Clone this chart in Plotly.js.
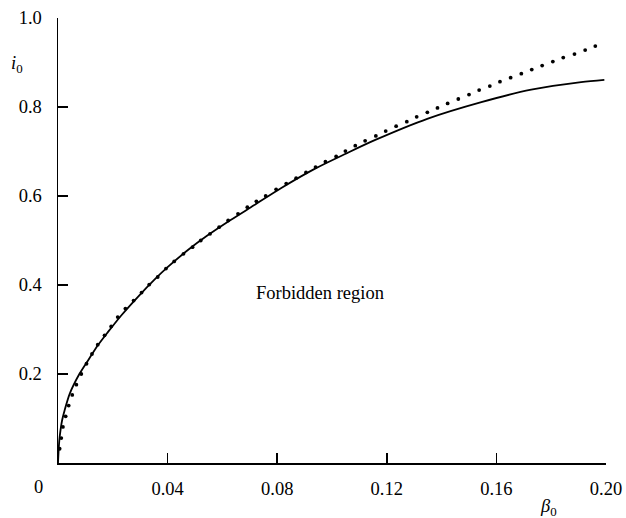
<!DOCTYPE html>
<html>
<head>
<meta charset="utf-8">
<script src="https://cdn.plot.ly/plotly-3.0.1.min.js"></script>
<style>html,body{margin:0;padding:0;background:#fff;}</style>
</head>
<body>
<div id="chart" style="width:626px;height:518px;"></div>
<script>
// Solid curve
const solidX = [0, 0.0003, 0.0006, 0.0015, 0.0024, 0.0043, 0.0079, 0.0109, 0.0145, 0.0182, 0.0230, 0.0291, 0.0352, 0.0400, 0.0473, 0.0545, 0.0630, 0.0715, 0.0815, 0.0940, 0.1050, 0.1158, 0.1350, 0.1545, 0.1727, 0.1909, 0.1994];
const solidY = [0, 0.036, 0.058, 0.096, 0.118, 0.156, 0.201, 0.230, 0.264, 0.294, 0.331, 0.373, 0.412, 0.440, 0.478, 0.511, 0.546, 0.579, 0.618, 0.662, 0.695, 0.726, 0.774, 0.811, 0.839, 0.856, 0.861];

// Dotted curve (each dot)
const dotX = [0.0006, 0.0012, 0.0018, 0.0028, 0.0039, 0.0052, 0.0067, 0.0085, 0.0104, 0.0124, 0.0145, 0.0170, 0.0194, 0.0218, 0.0246, 0.0276, 0.0305, 0.0333, 0.0364, 0.0394, 0.0424, 0.0458, 0.0491, 0.0521, 0.0555, 0.0588, 0.0621, 0.0657, 0.0691, 0.0724,
  0.0758, 0.0796, 0.0833, 0.0869, 0.0905, 0.0940, 0.0976, 0.1015, 0.1049, 0.1085, 0.1121, 0.1160, 0.1196, 0.1234, 0.1273, 0.1309, 0.1348, 0.1385, 0.1422, 0.1461, 0.1500, 0.1537, 0.1576, 0.1613, 0.1652, 0.1691, 0.1729, 0.1767, 0.1806, 0.1844, 0.1885, 0.1924, 0.1961];
const dotY = [0.032, 0.056, 0.081, 0.105, 0.129, 0.153, 0.176, 0.200, 0.223, 0.245, 0.266, 0.287, 0.307, 0.328, 0.347, 0.365, 0.383, 0.401, 0.418, 0.437, 0.453, 0.470, 0.485, 0.500, 0.515, 0.530, 0.545, 0.560, 0.575, 0.588,
  0.600, 0.615, 0.628, 0.640, 0.653, 0.665, 0.677, 0.689, 0.701, 0.713, 0.724, 0.735, 0.746, 0.757, 0.767, 0.778, 0.788, 0.798, 0.808, 0.818, 0.828, 0.838, 0.847, 0.857, 0.866, 0.875, 0.884, 0.893, 0.902, 0.911, 0.919, 0.928, 0.937];

const xTicks = [0.04, 0.08, 0.12, 0.16, 0.20];
const xTickText = ['0.04', '0.08', '0.12', '0.16', '0.20'];
const yTicks = [0.2, 0.4, 0.6, 0.8, 1.0];
const yTickText = ['0.2', '0.4', '0.6', '0.8', '1.0'];

const FONT = '"Liberation Serif", "Times New Roman", serif';
const FS = 18.5;

const traces = [
  {x: solidX, y: solidY, mode: 'lines', line: {color: '#000', width: 1.8, shape: 'spline', smoothing: 0.8}, hoverinfo: 'skip', showlegend: false, cliponaxis: false},
  {x: dotX, y: dotY, mode: 'markers', marker: {color: '#000', size: 3.8}, hoverinfo: 'skip', showlegend: false, cliponaxis: false}
];

const layout = {
  width: 626, height: 518,
  margin: {l: 58, r: 20, t: 18, b: 55, pad: 0},
  paper_bgcolor: '#fff', plot_bgcolor: '#fff',
  font: {family: FONT, size: FS, color: '#000'},
  showlegend: false,
  xaxis: {
    range: [0, 0.2], showgrid: false, zeroline: false, showline: true, linecolor: '#000', linewidth: 1.5,
    ticks: 'inside', ticklen: 10, tickwidth: 1.5, tickcolor: '#000',
    tickvals: xTicks, ticktext: xTickText, ticklabelstandoff: 8,
    tickfont: {family: FONT, size: FS, color: '#000'}, fixedrange: true
  },
  yaxis: {
    range: [0, 1.0], showgrid: false, zeroline: false, showline: true, linecolor: '#000', linewidth: 1.5,
    ticks: 'inside', ticklen: 10, tickwidth: 1.5, tickcolor: '#000',
    tickvals: yTicks, ticktext: yTickText, ticklabelstandoff: 11,
    tickfont: {family: FONT, size: FS, color: '#000'}, fixedrange: true
  },
  annotations: [
    {text: '0', xref: 'paper', yref: 'paper', x: -0.035, y: -0.055, xanchor: 'center', yanchor: 'middle', showarrow: false, font: {family: FONT, size: FS, color: '#000'}},
    {text: '<i>i</i><sub>0</sub>', xref: 'paper', yref: 'paper', x: -0.075, y: 0.895, xanchor: 'center', yanchor: 'middle', showarrow: false, font: {family: FONT, size: FS, color: '#000'}},
    {text: '<i>β</i><sub>0</sub>', xref: 'paper', yref: 'paper', x: 0.895, y: -0.1, xanchor: 'center', yanchor: 'middle', showarrow: false, font: {family: FONT, size: FS, color: '#000'}},
    {text: 'Forbidden region', xref: 'x', yref: 'y', x: 0.0956, y: 0.381, xanchor: 'center', yanchor: 'middle', showarrow: false, font: {family: FONT, size: FS, color: '#000'}}
  ]
};

Plotly.newPlot('chart', traces, layout, {displayModeBar: false, staticPlot: true});
</script>
</body>
</html>
